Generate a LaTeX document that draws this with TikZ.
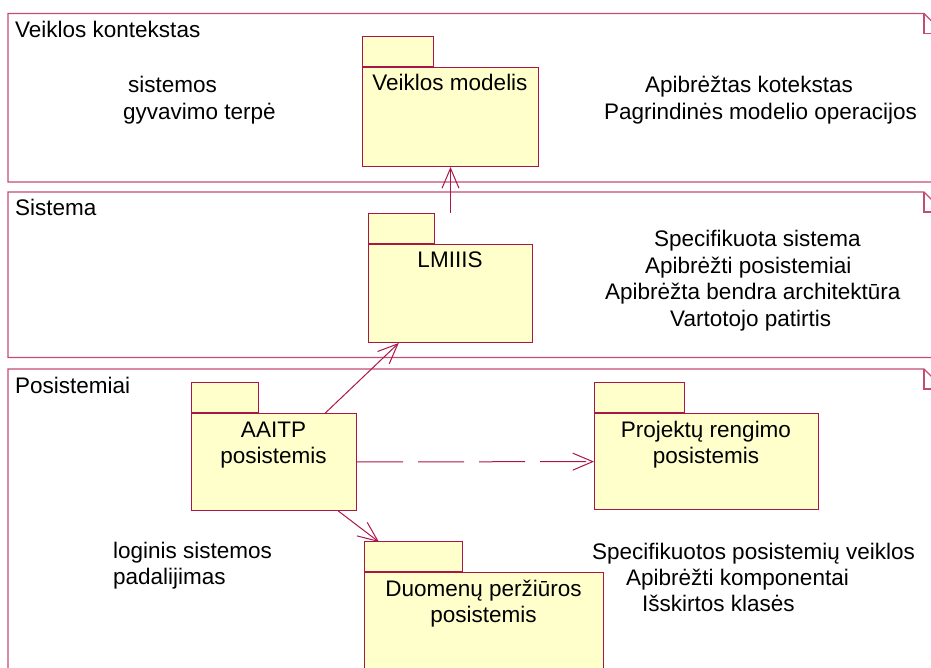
\documentclass[tikz,border=0pt]{standalone}
\usepackage{fontspec}
\setmainfont{Liberation Sans}
\usetikzlibrary{arrows.meta}

\definecolor{roseline}{RGB}{170,22,70}
\definecolor{laneline}{RGB}{196,76,116}
\definecolor{pkgfill}{RGB}{255,255,204}

\tikzset{
  every node/.style={font=\fontsize{22.5}{26.5}\selectfont, inner sep=0pt, text=black},
  lane/.style={draw=laneline, line width=1.1pt},
  pkgbody/.style={draw=roseline, fill=pkgfill, line width=1pt, rectangle, anchor=north west},
  pkgtab/.style={draw=roseline, fill=pkgfill, line width=1pt, rectangle, anchor=south west},
  txt/.style={anchor=base},
  ltxt/.style={anchor=base west},
  assoc/.style={draw=roseline, line width=1pt, -{Straight Barb[length=20pt,width=17pt,line width=1pt]}},
  depend/.style={assoc, dash pattern=on 46pt off 15pt},
}

\begin{document}
\begin{tikzpicture}[x=1pt,y=-1pt]
\useasboundingbox (0,0) rectangle (931,668);
\clip (0,0) rectangle (931,668);

% swimlanes with folded upper right corner
\draw[lane] (8,182) -- (8,13.5) -- (924,13.5) -- (944,33.5) -- (944,182) -- cycle;
\draw[lane] (924,13.5) -- (924,33.5) -- (944,33.5);
\draw[lane] (8,357.5) -- (8,192) -- (924,192) -- (944,212) -- (944,357.5) -- cycle;
\draw[lane] (924,192) -- (924,212) -- (944,212);
\draw[lane] (8,720) -- (8,369) -- (924,369) -- (944,389) -- (944,720) -- cycle;
\draw[lane] (924,369) -- (924,389) -- (944,389);

\node[ltxt] (lane1) at (15,37.5) {Veiklos kontekstas};
\node[ltxt] (lane2) at (15,216) {Sistema};
\node[ltxt] (lane3) at (15,393) {Posistemiai};

% packages
\node[pkgbody, minimum width=176pt, minimum height=99pt] (vm) at (362,67) {};
\node[pkgtab, minimum width=71pt, minimum height=30pt] (vmtab) at (vm.north west) {};
\node[txt] (vmname) at (450,91) {Veiklos modelis};

\node[pkgbody, minimum width=164pt, minimum height=98pt] (lm) at (368,244) {};
\node[pkgtab, minimum width=66pt, minimum height=30pt] (lmtab) at (lm.north west) {};
\node[txt] (lmname) at (450,268) {LMIIIS};

\node[pkgbody, minimum width=165pt, minimum height=97pt] (aa) at (191,413) {};
\node[pkgtab, minimum width=67pt, minimum height=30pt] (aatab) at (aa.north west) {};
\node[txt] (aaname1) at (273.5,437) {AAITP};
\node[txt] (aaname2) at (273.5,463) {posistemis};

\node[pkgbody, minimum width=224pt, minimum height=96pt] (pr) at (594,413) {};
\node[pkgtab, minimum width=90pt, minimum height=30pt] (prtab) at (pr.north west) {};
\node[txt] (prname1) at (706,437) {Projektų rengimo};
\node[txt] (prname2) at (706,463) {posistemis};

\node[pkgbody, minimum width=239pt, minimum height=150pt] (dp) at (364,572) {};
\node[pkgtab, minimum width=98pt, minimum height=30pt] (dptab) at (dp.north west) {};
\node[txt] (dpname1) at (483.5,596) {Duomenų peržiūros};
\node[txt] (dpname2) at (483.5,622) {posistemis};

% connectors
\coordinate (lmtop) at (lm.north |- lmtab.north);
\draw[assoc] (lmtop) -- (vm.south);
\draw[assoc] (aa) -- (lm);
\coordinate (dptip) at (379,542);
\draw[assoc] (aa) -- (dptip);
\draw[depend] (aa) -- (pr);

% notes in the lanes
\node[ltxt] (ctx1) at (128,93) {sistemos};
\node[ltxt] (ctx2) at (123,120) {gyvavimo terpė};
\node[ltxt] (ctx3) at (645,93) {Apibrėžtas kotekstas};
\node[ltxt] (ctx4) at (604,120) {Pagrindinės modelio operacijos};

\node[ltxt] (sys1) at (654,247) {Specifikuota sistema};
\node[ltxt] (sys2) at (645,273) {Apibrėžti posistemiai};
\node[ltxt] (sys3) at (605,299) {Apibrėžta bendra architektūra};
\node[ltxt] (sys4) at (670,326) {Vartotojo patirtis};

\node[ltxt] (sub1) at (113,558) {loginis sistemos};
\node[ltxt] (sub2) at (113,584) {padalijimas};
\node[ltxt] (sub3) at (592,559) {Specifikuotos posistemių veiklos};
\node[ltxt] (sub4) at (626,585) {Apibrėžti komponentai};
\node[ltxt] (sub5) at (642,611) {Išskirtos klasės};
\end{tikzpicture}
\end{document}
